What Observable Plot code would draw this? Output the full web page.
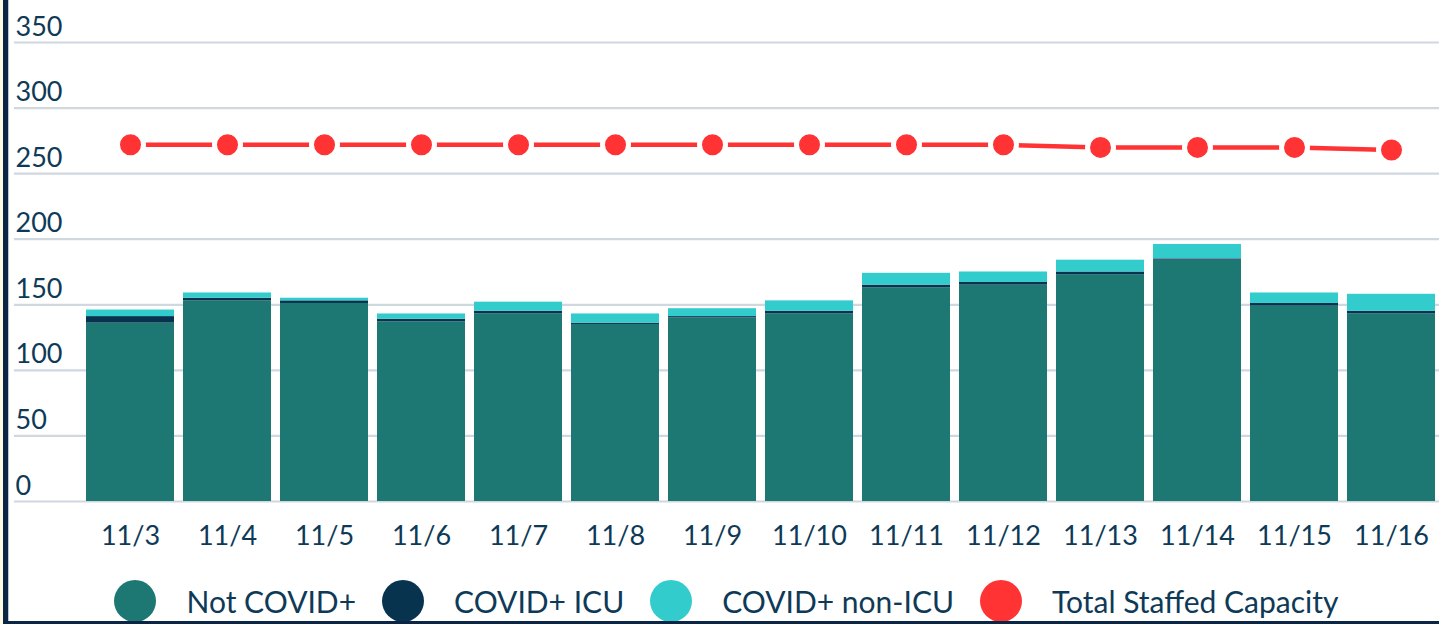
<!DOCTYPE html>
<html>
<head>
<meta charset="utf-8">
<script src="https://cdn.jsdelivr.net/npm/d3@7"></script>
<script src="https://cdn.jsdelivr.net/npm/@observablehq/plot@0.6"></script>
<style>
  html, body { margin: 0; padding: 0; background: #fffbe3; }
  #page { position: relative; width: 1439px; height: 624px; overflow: hidden; background: #fffbe3; }
  #panel { position: absolute; left: 3px; top: 0; width: 1436px; height: 624px; background: #fff; }
  #chart { position: absolute; left: 0; top: 0; }
  #bl { position: absolute; left: 3px; top: 0; width: 5px; height: 624px; background: #0b2546; }
  #bl2 { position: absolute; left: 8px; top: 0; width: 1px; height: 621px; background: #b9c6d4; }
  #bb { position: absolute; left: 3px; top: 621px; width: 1436px; height: 3px; background: #0b2546; }
  #legend { position: absolute; left: 14px; width: 1425px; top: 580px; height: 42px;
    display: flex; justify-content: center; align-items: center;
    font-family: Lato, "Open Sans", sans-serif; font-size: 30px; color: #0e3a57; }
  .item { display: flex; align-items: center; margin: 0 13px; }
  .sw { width: 42px; height: 42px; border-radius: 50%; margin-right: 30px; }
</style>
</head>
<body>
<div id="page">
  <div id="panel"></div>
  <div id="chart"></div>
  <div id="legend"></div>
  <div id="bl"></div>
  <div id="bl2"></div>
  <div id="bb"></div>
</div>
<script>
const dates = ["11/3","11/4","11/5","11/6","11/7","11/8","11/9","11/10","11/11","11/12","11/13","11/14","11/15","11/16"];
const notCovid   = [136, 153, 151, 137, 143, 135, 140, 143, 163, 165, 173, 184, 149, 143];
const covidIcu   = [5, 2, 2, 2, 2, 1, 1, 2, 2, 2, 2, 1, 2, 2];
const covidNonIcu = [5, 4, 2, 4, 7, 7, 6, 8, 9, 8, 9, 11, 8, 13];
const capacity   = [272, 272, 272, 272, 272, 272, 272, 272, 272, 272, 270, 270, 270, 268];
const seriesNames = ["Not COVID+", "COVID+ ICU", "COVID+ non-ICU"];
const seriesColors = ["#1d7873", "#07334f", "#33cccc"];
const lineName = "Total Staffed Capacity";
const lineColor = "#ff3333";
const yTicks = [0, 50, 100, 150, 200, 250, 300, 350];

const textColor = "#0e3a57";
const seriesValues = [notCovid, covidIcu, covidNonIcu];
const bars = [];
dates.forEach((d, i) => {
  seriesNames.forEach((s, j) => bars.push({date: d, series: s, value: seriesValues[j][i]}));
});
const caps = dates.map((d, i) => ({date: d, value: capacity[i]}));

const chart = Plot.plot({
  width: 1439,
  height: 570,
  marginTop: 42,
  marginBottom: 69,
  marginLeft: 14,
  marginRight: 0,
  style: {fontFamily: "Lato, 'Open Sans', sans-serif", background: "transparent", overflow: "visible"},
  x: {type: "band", domain: dates, range: [82, 1438], paddingInner: 0.095, paddingOuter: 0.02, axis: null},
  y: {domain: [0, 350], axis: null},
  color: {domain: seriesNames, range: seriesColors},
  marks: [
    Plot.ruleY(yTicks, {stroke: "#cfd7df", strokeWidth: 2.2}),
    Plot.text(yTicks, {y: d => d, text: d => String(d), frameAnchor: "left", textAnchor: "start",
      lineAnchor: "bottom", dx: 1, dy: -7, fontSize: 27, fill: textColor}),
    Plot.barY(bars, {x: "date", y: "value", fill: "series", order: seriesNames}),
    Plot.text(dates, {x: d => d, text: d => d, frameAnchor: "bottom", lineAnchor: "top",
      dy: 24, fontSize: 27, fill: textColor}),
    Plot.line(caps, {x: "date", y: "value", stroke: lineColor, strokeWidth: 4.5}),
    Plot.dot(caps, {x: "date", y: "value", r: 13, fill: lineColor, stroke: "#fff", strokeWidth: 5})
  ]
});
document.getElementById("chart").appendChild(chart);

const legend = document.getElementById("legend");
const items = seriesNames.map((s, i) => [s, seriesColors[i]]).concat([[lineName, lineColor]]);
items.forEach(([name, col]) => {
  const it = document.createElement("div");
  it.className = "item";
  const sw = document.createElement("div");
  sw.className = "sw";
  sw.style.background = col;
  const tx = document.createElement("span");
  tx.textContent = name;
  it.appendChild(sw);
  it.appendChild(tx);
  legend.appendChild(it);
});
</script>
</body>
</html>
